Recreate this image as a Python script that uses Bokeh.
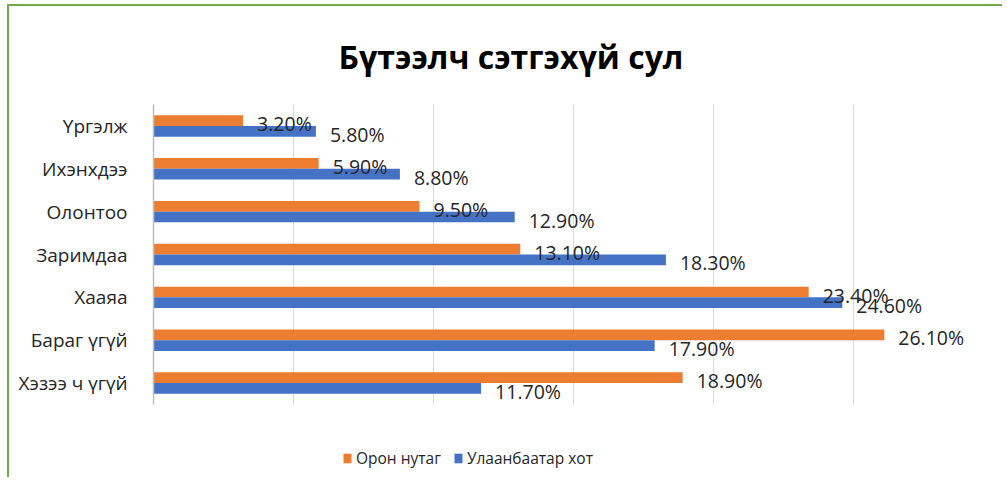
from bokeh.plotting import figure
from bokeh.layouts import column
from bokeh.models import ColumnDataSource, FactorRange, Legend, LegendItem, SingleIntervalTicker
from bokeh.transform import dodge
from bokeh.core.properties import value
from bokeh.embed import file_html
from bokeh.resources import INLINE

categories = ["Үргэлж", "Ихэнхдээ", "Олонтоо", "Заримдаа", "Хааяа", "Бараг үгүй", "Хэзээ ч үгүй"]
rural = [3.2, 5.9, 9.5, 13.1, 23.4, 26.1, 18.9]      # Орон нутаг
city = [5.8, 8.8, 12.9, 18.3, 24.6, 17.9, 11.7]      # Улаанбаатар хот
series_names = ["Орон нутаг", "Улаанбаатар хот"]
title_text = "Бүтээлч сэтгэхүй сул"

ORANGE = "#ED7D31"
BLUE = "#4472C4"
FONT = "Open Sans"
TXT = "#262626"

src = ColumnDataSource(dict(
    cat=categories,
    rural=rural,
    city=city,
    rural_lbl=[f"{v:.2f}%" for v in rural],
    city_lbl=[f"{v:.2f}%" for v in city],
))

p = figure(
    width=993, height=402,
    y_range=FactorRange(*reversed(categories)),
    x_range=(0, 30),
    output_backend="svg", toolbar_location=None,
    min_border_left=144, min_border_right=9,
    min_border_top=89, min_border_bottom=4,
)
p.outline_line_color = None

p.title.text = title_text
p.title.text_font = FONT
p.title.text_font_size = "32px"
p.title.text_font_style = "bold"
p.title.text_color = "#000000"
p.title.align = "left"
p.title.offset = 185
p.title.standoff = 53

r1 = p.hbar(y=dodge("cat", 0.125, range=p.y_range), right="rural", left=0, height=0.25,
            source=src, fill_color=ORANGE, line_color=None)
r2 = p.hbar(y=dodge("cat", -0.125, range=p.y_range), right="city", left=0, height=0.25,
            source=src, fill_color=BLUE, line_color=None)

p.text(x="rural", y=dodge("cat", 0.125, range=p.y_range), text="rural_lbl", source=src,
       x_offset=14, y_offset=3, text_baseline="middle", text_align="left",
       text_font=value(FONT), text_font_size="19.5px", text_color=TXT)
p.text(x="city", y=dodge("cat", -0.125, range=p.y_range), text="city_lbl", source=src,
       x_offset=14, y_offset=3, text_baseline="middle", text_align="left",
       text_font=value(FONT), text_font_size="19.5px", text_color=TXT)

# axes
p.xaxis.visible = False
p.xaxis.ticker = SingleIntervalTicker(interval=5)
p.xgrid.ticker = SingleIntervalTicker(interval=5)
p.xgrid.grid_line_color = "#D9D9D9"
p.xgrid.grid_line_width = 1
p.ygrid.grid_line_color = None

yax = p.yaxis[0]
yax.axis_line_color = "#BFBFBF"
yax.axis_line_width = 1.5
yax.major_tick_line_color = None
yax.minor_tick_line_color = None
yax.major_label_standoff = 20
yax.major_label_text_font = FONT
yax.major_label_text_font_size = "19px"
yax.major_label_text_color = TXT

# legend strip below the chart (its renderers are hidden; only the legend shows)
pl = figure(width=993, height=69, x_range=(0, 30), y_range=FactorRange(*reversed(categories)),
            output_backend="svg", toolbar_location=None,
            min_border_left=0, min_border_right=0, min_border_top=0, min_border_bottom=0)
pl.axis.visible = False
pl.grid.visible = False
pl.outline_line_color = None
lr1 = pl.hbar(y="cat", right="rural", left=0, height=0.25, source=src,
              fill_color=ORANGE, line_color=None, visible=False)
lr2 = pl.hbar(y="cat", right="city", left=0, height=0.25, source=src,
              fill_color=BLUE, line_color=None, visible=False)

legend = Legend(items=[LegendItem(label=series_names[0], renderers=[lr1]),
                       LegendItem(label=series_names[1], renderers=[lr2])],
                orientation="horizontal", location=(189, 8),
                padding=0, margin=0, spacing=12, border_line_color=None,
                background_fill_alpha=0, inactive_fill_alpha=0,
                glyph_width=10, glyph_height=12, label_standoff=4,
                label_text_font=FONT, label_text_font_size="15.5px", label_text_color=TXT)
pl.add_layout(legend, "center")

layout = column(p, pl, spacing=0,
                styles={"border-left": "2px solid #70AD47", "border-top": "2px solid #70AD47",
                        "margin-left": "7px", "margin-top": "4px"})

open("out.html", "w").write(file_html(layout, INLINE))
